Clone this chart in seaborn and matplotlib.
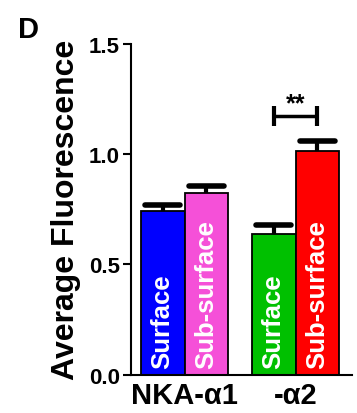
import numpy as np
import pandas as pd
import matplotlib
matplotlib.use("Agg")
import matplotlib.pyplot as plt
import seaborn as sns

groups = ["NKA-α1", "NKA-α1", "-α2", "-α2"]
kinds = ["Surface", "Sub-surface", "Surface", "Sub-surface"]
means = [0.743, 0.823, 0.638, 1.012]
errs = [0.026, 0.031, 0.042, 0.047]
bar_colors = ["#0000ff", "#f550d8", "#00c000", "#ff0000"]
group_labels = ["NKA-\u03b11", "-\u03b12"]
yticks = [0.0, 0.5, 1.0, 1.5]

sns.set_style("ticks")
plt.rcParams["font.family"] = ["Liberation Sans", "DejaVu Sans"]
plt.rcParams["font.weight"] = "bold"
for k in ["text.color", "axes.labelcolor", "xtick.color", "ytick.color",
          "axes.edgecolor"]:
    plt.rcParams[k] = "black"

df = pd.DataFrame({"group": groups, "kind": kinds, "value": means})

fig = plt.figure(figsize=(3.57, 4.14), dpi=100)
ax = fig.add_axes([0.367, 0.0918, 0.619, 0.8007])

sns.barplot(data=df, x="group", y="value", hue="kind",
            hue_order=["Surface", "Sub-surface"], order=["NKA-α1", "-α2"],
            palette=["#0000ff", "#f550d8"], width=0.79, errorbar=None,
            edgecolor="black", linewidth=1.3, legend=False, ax=ax)

patches = sorted([p for p in ax.patches if p.get_height() > 0],
                 key=lambda p: p.get_x())
xs = []
for p, c, k in zip(patches, bar_colors, kinds):
    p.set_facecolor(c)
    cx = p.get_x() + p.get_width() / 2
    xs.append(cx)
    ax.text(cx, 0.03, k, rotation=90, ha="center", va="bottom",
            color="white", fontsize=18.5, fontweight="bold")

xs = np.array(xs)
m = np.array(means)
e = np.array(errs)
ax.vlines(xs, m, m + e, color="black", linewidth=3)
ax.hlines(m + e, xs - 0.16, xs + 0.16, color="black", linewidth=4,
          capstyle="round")

# significance bracket
yb = 1.17
ax.hlines(yb, xs[2], xs[3], color="black", linewidth=2.5)
ax.vlines([xs[2], xs[3]], yb - 0.045, yb + 0.045, color="black", linewidth=3)
ax.text((xs[2] + xs[3]) / 2, 1.23, "**", ha="center", va="center",
        fontsize=18, fontweight="bold")

ax.set_xlim(-0.482, 1.509)
ax.set_ylim(0, 1.5)
ax.set_yticks(yticks)
ax.set_yticklabels([f"{t:.1f}" for t in yticks], fontsize=16, fontweight="bold")
ax.set_xticks([0, 1])
ax.set_xticklabels(group_labels, fontsize=21, fontweight="bold")
ax.tick_params(axis="x", length=0, pad=4)
ax.tick_params(axis="y", length=6, width=1.5, pad=2)
ax.set_xlabel("")
ax.set_ylabel("Average Fluorescence", fontsize=23, fontweight="bold", labelpad=6)
for s in ["top", "right"]:
    ax.spines[s].set_visible(False)
for s in ["left", "bottom"]:
    ax.spines[s].set_linewidth(1.5)

fig.text(18 / 357, 1 - 30 / 414, "D", fontsize=21, fontweight="bold",
         va="center", ha="left")

fig.savefig("out.png", dpi=100)
